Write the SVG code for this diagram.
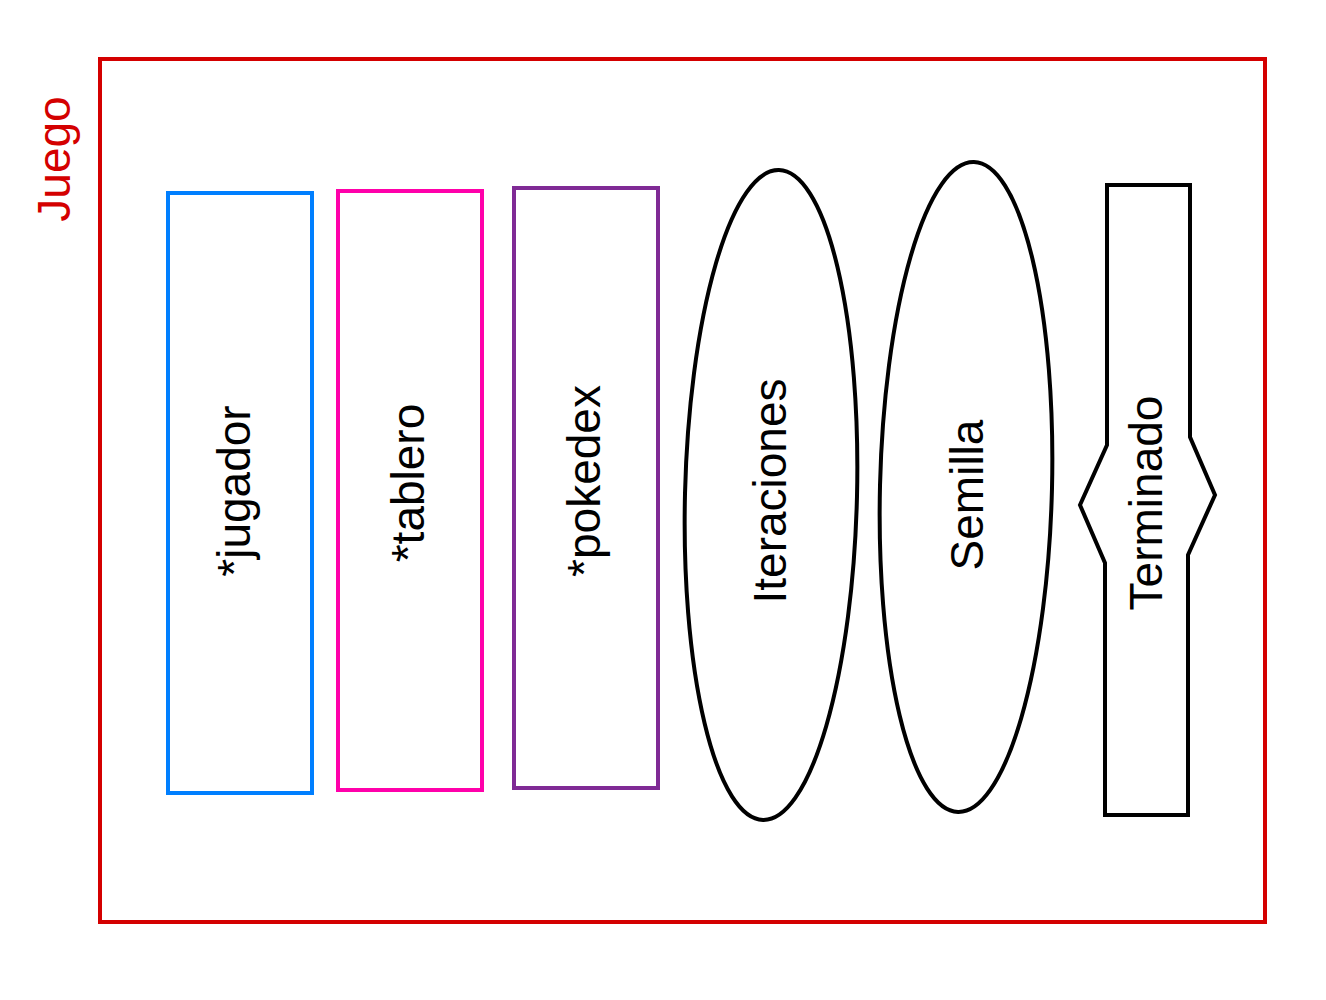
<svg xmlns="http://www.w3.org/2000/svg" width="1326" height="1000" viewBox="0 0 1326 1000">
<style>
.lbl{font-family:"Liberation Sans",Arial,sans-serif;font-size:46px;fill:#000;text-anchor:middle}
.shape{fill:#fff;stroke-width:4;stroke-linejoin:miter}
</style>
<rect width="1326" height="1000" fill="#fff"/>
<g id="juego">
<rect x="100" y="59" width="1165" height="863" fill="none" stroke="#d40000" stroke-width="4"/>
<text class="lbl" style="fill:#d40000" transform="translate(70,159) rotate(-90)">Juego</text>
</g>
<g id="jugador">
<rect class="shape" x="168" y="193" width="144" height="600" stroke="#007fff"/>
<text class="lbl" transform="translate(250,491) rotate(-90)">*jugador</text>
</g>
<g id="tablero">
<rect class="shape" x="338" y="191" width="144" height="599" stroke="#ff00aa"/>
<text class="lbl" transform="translate(424,483) rotate(-90)">*tablero</text>
</g>
<g id="pokedex">
<rect class="shape" x="514" y="188" width="144" height="600" stroke="#7f2a95"/>
<text class="lbl" transform="translate(600,481) rotate(-90)">*pokedex</text>
</g>
<g id="iteraciones">
<ellipse class="shape" cx="771" cy="495" rx="86" ry="325" stroke="#000" transform="rotate(1.4 771 495)"/>
<text class="lbl" transform="translate(786,491) rotate(-90)">Iteraciones</text>
</g>
<g id="semilla">
<ellipse class="shape" cx="966" cy="487" rx="86" ry="325" stroke="#000" transform="rotate(1.4 966 487)"/>
<text class="lbl" transform="translate(983,495) rotate(-90)">Semilla</text>
</g>
<g id="terminado">
<polygon class="shape" stroke="#000" points="1107,185 1190,185 1190,437 1215,495 1188,555 1188,815 1105,815 1105,563 1080,505 1107,445"/>
<text class="lbl" transform="translate(1162,503) rotate(-90)">Terminado</text>
</g>
<g id="connectors"></g>
</svg>
